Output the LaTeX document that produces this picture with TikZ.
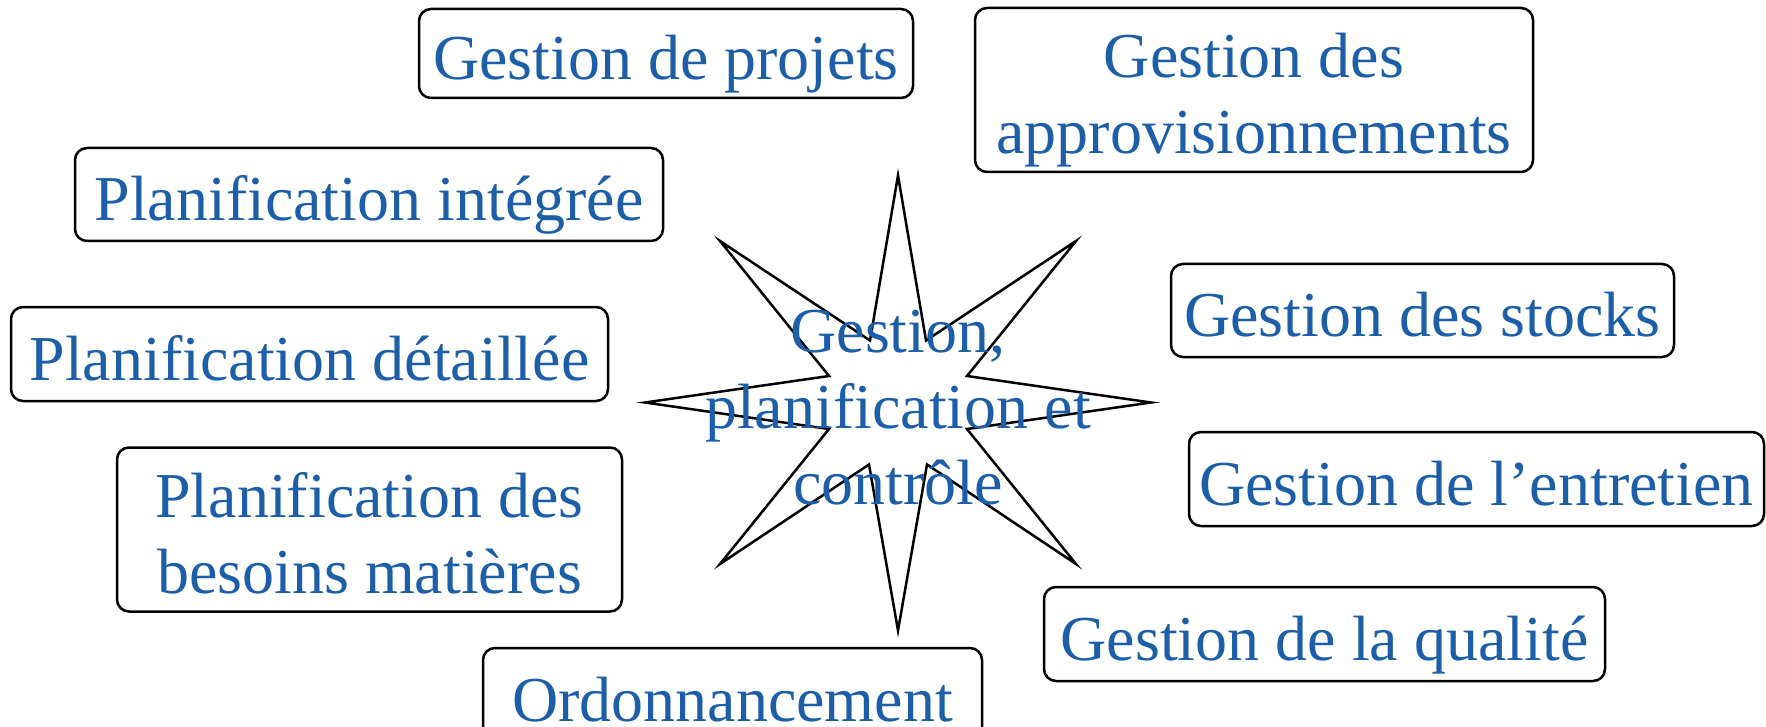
\documentclass[tikz,border=0pt]{standalone}
\usepackage{fontspec}
\setmainfont{Liberation Serif}
\definecolor{txtblue}{RGB}{28,94,168}
% struts fixing the first-line height and last-line depth of every label
\newcommand\topst{\rule{0pt}{35pt}}
\newcommand\botst{\rule[-9pt]{0pt}{9pt}}
\begin{document}
\begin{tikzpicture}[x=0.5pt,y=-0.5pt,
  lbl/.style={inner sep=0pt, align=center, text=txtblue,
    font=\fontsize{32}{38}\selectfont},
  box/.style={lbl, draw=black, line width=1.25pt, rounded corners=6pt}]
\useasboundingbox (0,0) rectangle (1766,727);

% central star
\draw[line width=1.25pt, line join=miter, shift={(898,402.5)}]
  (0,-227) -- (-28,-62) -- (-178,-161.5) -- (-69,-26.5) -- (-253,0)
  -- (-69,26.5) -- (-178,161.5) -- (-29,62) -- (0,228) -- (29,62)
  -- (178,161.5) -- (69,26.5) -- (253,0) -- (69,-26.5) -- (178,-161.5)
  -- (28,-62) -- cycle;
\node[lbl] (centre) at (898,402.5)
  {\topst Gestion,\\planification et\\contrôle\botst};

% surrounding boxes
\node[box, minimum width=247pt, minimum height=44.5pt] (projets) at (666,53.5)
  {\topst Gestion de projets\botst};
\node[box, minimum width=279pt, minimum height=82pt] (appro) at (1254,90)
  {\topst Gestion des\\approvisionnements\botst};
\node[box, minimum width=294pt, minimum height=46.5pt] (integree) at (369,194.5)
  {\topst Planification intégrée\botst};
\node[box, minimum width=298.5pt, minimum height=47pt] (detaillee) at (309.5,354)
  {\topst Planification détaillée\botst};
\node[box, minimum width=251.5pt, minimum height=46.5pt] (stocks) at (1422.5,310.5)
  {\topst Gestion des stocks\botst};
\node[box, minimum width=287.5pt, minimum height=47pt] (entretien) at (1476.5,479)
  {\topst Gestion de l’entretien\botst};
\node[box, minimum width=252.5pt, minimum height=77.5pt] (besoins) at (369.5,529.5)
  {\topst Planification des\\besoins matières\botst};
\node[box, minimum width=280.5pt, minimum height=47pt] (qualite) at (1324.5,634)
  {\topst Gestion de la qualité\botst};
\node[box, minimum width=249.5pt, minimum height=47pt] (ordo) at (732.5,695)
  {\topst Ordonnancement\botst};
\end{tikzpicture}
\end{document}
